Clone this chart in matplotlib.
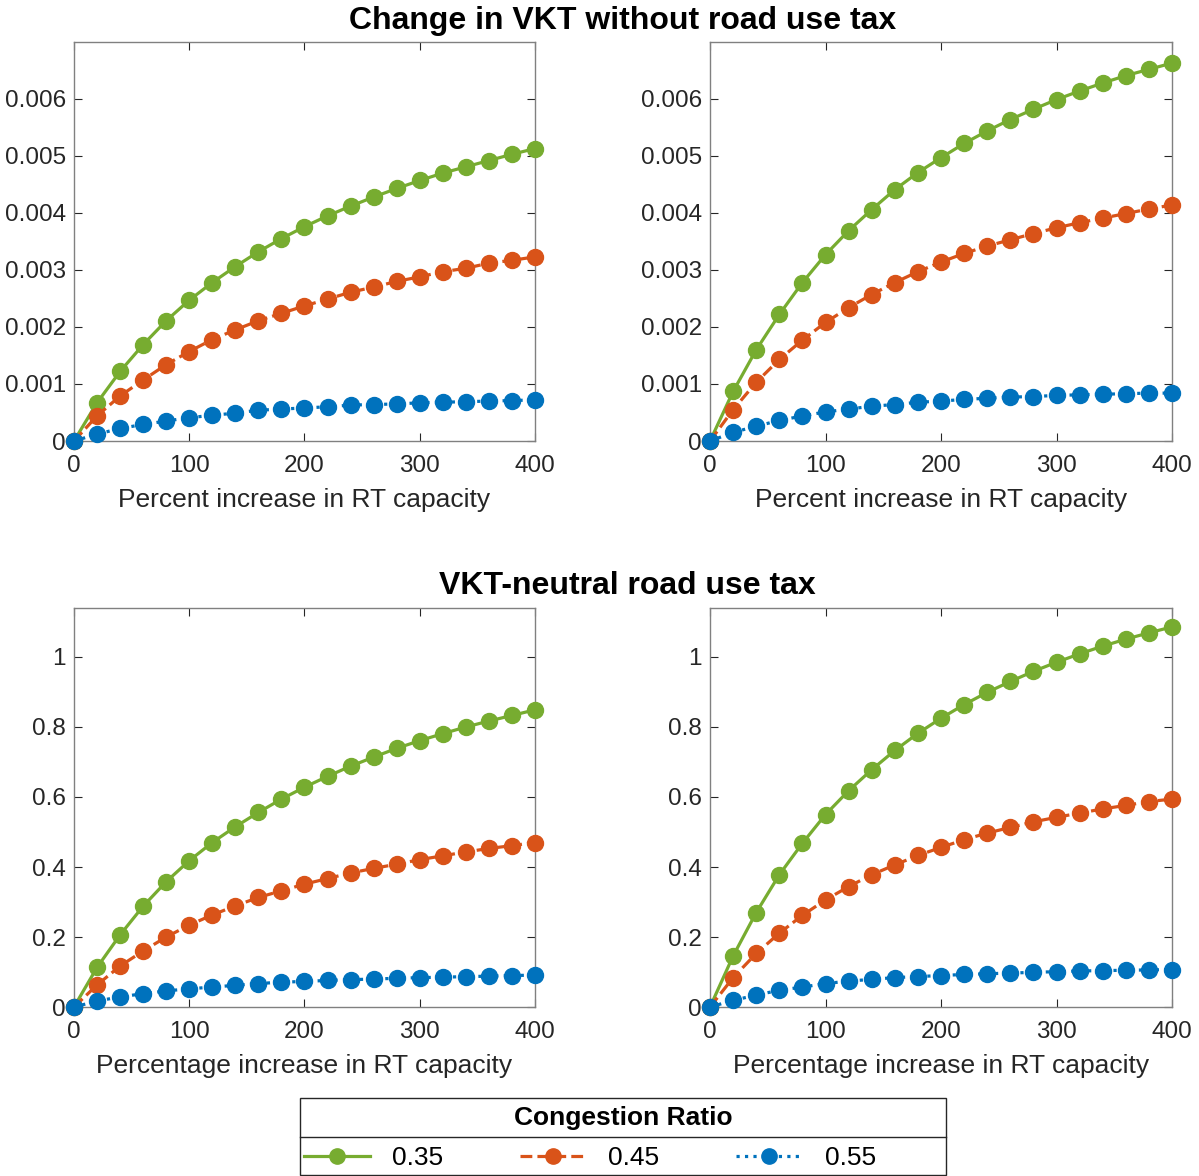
import numpy as np
import matplotlib.pyplot as plt
from matplotlib.lines import Line2D
from matplotlib.patches import Rectangle
from matplotlib.ticker import FuncFormatter

plt.rcParams['font.family'] = ['Liberation Sans', 'DejaVu Sans']

pct = list(range(0, 401, 20))
ratios = ["0.35", "0.45", "0.55"]

# change in VKT, no tax (left / right panel)
vkt_l_035 = [0, 0.00067, 0.00122, 0.00169, 0.00211, 0.00247, 0.00278, 0.00306, 0.00332, 0.00355, 0.00376,
             0.00395, 0.00412, 0.00428, 0.00443, 0.00457, 0.00470, 0.00481, 0.00492, 0.00503, 0.00513]
vkt_l_045 = [0, 0.00044, 0.00079, 0.00107, 0.00134, 0.00157, 0.00178, 0.00195, 0.00211, 0.00224, 0.00237,
             0.00249, 0.00261, 0.00270, 0.00280, 0.00288, 0.00297, 0.00303, 0.00312, 0.00317, 0.00323]
vkt_l_055 = [0, 0.00012, 0.00022, 0.00029, 0.00035, 0.00041, 0.00045, 0.00049, 0.00054, 0.00056, 0.00058,
             0.00060, 0.00063, 0.00064, 0.00065, 0.00067, 0.00068, 0.00069, 0.00070, 0.00071, 0.00072]

vkt_r_035 = [0, 0.00087, 0.00160, 0.00222, 0.00278, 0.00327, 0.00369, 0.00406, 0.00441, 0.00471, 0.00497,
             0.00522, 0.00544, 0.00564, 0.00582, 0.00599, 0.00614, 0.00628, 0.00641, 0.00652, 0.00663]
vkt_r_045 = [0, 0.00055, 0.00103, 0.00143, 0.00177, 0.00208, 0.00234, 0.00257, 0.00278, 0.00297, 0.00314,
             0.00329, 0.00342, 0.00353, 0.00364, 0.00374, 0.00383, 0.00391, 0.00399, 0.00407, 0.00414]
vkt_r_055 = [0, 0.00015, 0.00026, 0.00036, 0.00044, 0.00051, 0.00056, 0.00061, 0.00064, 0.00068, 0.00070,
             0.00073, 0.00075, 0.00077, 0.00078, 0.00080, 0.00081, 0.00082, 0.00083, 0.00084, 0.00084]

# VKT-neutral road use tax
tax_l_035 = [0, 0.113, 0.206, 0.288, 0.358, 0.418, 0.470, 0.515, 0.556, 0.594, 0.628,
             0.659, 0.688, 0.714, 0.739, 0.761, 0.781, 0.800, 0.817, 0.833, 0.849]
tax_l_045 = [0, 0.063, 0.117, 0.160, 0.200, 0.234, 0.263, 0.289, 0.313, 0.332, 0.351,
             0.367, 0.383, 0.396, 0.408, 0.421, 0.432, 0.443, 0.453, 0.461, 0.470]
tax_l_055 = [0, 0.017, 0.029, 0.038, 0.046, 0.052, 0.057, 0.062, 0.067, 0.071, 0.073,
             0.076, 0.078, 0.080, 0.082, 0.084, 0.085, 0.087, 0.088, 0.090, 0.091]

tax_r_035 = [0, 0.146, 0.270, 0.378, 0.468, 0.550, 0.618, 0.678, 0.733, 0.782, 0.825,
             0.864, 0.899, 0.930, 0.959, 0.985, 1.009, 1.031, 1.051, 1.069, 1.086]
tax_r_045 = [0, 0.084, 0.153, 0.211, 0.262, 0.306, 0.344, 0.378, 0.406, 0.433, 0.456,
             0.478, 0.497, 0.513, 0.529, 0.542, 0.554, 0.566, 0.576, 0.587, 0.594]
tax_r_055 = [0, 0.019, 0.034, 0.048, 0.057, 0.067, 0.074, 0.079, 0.084, 0.087, 0.090,
             0.093, 0.095, 0.097, 0.099, 0.101, 0.103, 0.104, 0.105, 0.106, 0.107]

colors = ['#77AC30', '#D95319', '#0072BD']
styles = ['-', '--', ':']

fig = plt.figure(figsize=(11.99, 11.76), dpi=100)

panels = [
    ([0.0617, 0.625, 0.3845, 0.3393], [vkt_l_035, vkt_l_045, vkt_l_055], 0.007, 0.001,
     "Percent increase in RT capacity"),
    ([0.5922, 0.625, 0.3853, 0.3393], [vkt_r_035, vkt_r_045, vkt_r_055], 0.007, 0.001,
     "Percent increase in RT capacity"),
    ([0.0617, 0.1437, 0.3845, 0.3393], [tax_l_035, tax_l_045, tax_l_055], 1.14, 0.2,
     "Percentage increase in RT capacity"),
    ([0.5922, 0.1437, 0.3853, 0.3393], [tax_r_035, tax_r_045, tax_r_055], 1.14, 0.2,
     "Percentage increase in RT capacity"),
]

for rect, series, ytop, ystep, xlab in panels:
    ax = fig.add_axes(rect)
    for ys, c, ls in zip(series, colors, styles):
        ax.plot(pct, ys, ls, color=c, lw=2.3, marker='o', ms=11.5, clip_on=False, zorder=3)
    ax.set_xlim(0, 400)
    ax.set_ylim(0, ytop)
    ax.set_xticks([0, 100, 200, 300, 400])
    ax.set_yticks(np.arange(0, ytop, ystep))
    ax.yaxis.set_major_formatter(FuncFormatter(lambda v, p: '%g' % round(v, 6)))
    ax.tick_params(direction='in', top=True, right=True, labelsize=17.5, length=6,
                   colors='#262626', width=0.8)
    ax.tick_params(axis='x', pad=10)
    ax.tick_params(axis='y', pad=6)
    for s in ax.spines.values():
        s.set_color('#808080')
        s.set_linewidth(1.0)
    ax.set_xlabel(xlab, fontsize=19, color='#262626', labelpad=8)

fig.text(0.519, 0.982, "Change in VKT without road use tax", ha='center', va='center',
         fontsize=23, fontweight='bold')
fig.text(0.523, 0.5015, "VKT-neutral road use tax", ha='center', va='center',
         fontsize=23, fontweight='bold')

# legend: frame, title and separator drawn by hand, entries by fig.legend
box_x0, box_x1 = 300 / 1199, 946 / 1199
box_y0, box_y1 = 1 - 1175 / 1176, 1 - 1098 / 1176
sep_y = 1 - 1137 / 1176
fig.add_artist(Rectangle((box_x0, box_y0), box_x1 - box_x0, box_y1 - box_y0, transform=fig.transFigure,
                         facecolor='white', edgecolor='#262626', lw=1.0, zorder=1))
fig.add_artist(Line2D([box_x0, box_x1], [sep_y, sep_y], transform=fig.transFigure,
                      color='#262626', lw=1.0, zorder=2))
fig.text((box_x0 + box_x1) / 2, 1 - 1118 / 1176, "Congestion Ratio", ha='center', va='center',
         fontsize=19, fontweight='bold', zorder=3)

handles = [Line2D([], [], color=c, ls=ls, lw=2.3, marker='o', ms=11) for c, ls in zip(colors, styles)]
leg = fig.legend(handles, ratios, ncol=3, loc='center left', bbox_to_anchor=(304 / 1199, 1 - 1158 / 1176),
                 fontsize=19, frameon=False, handlelength=2.5, columnspacing=2.9, handletextpad=0.85,
                 borderpad=0, borderaxespad=0)
leg.set_zorder(4)

fig.savefig('out.png', dpi=100)
